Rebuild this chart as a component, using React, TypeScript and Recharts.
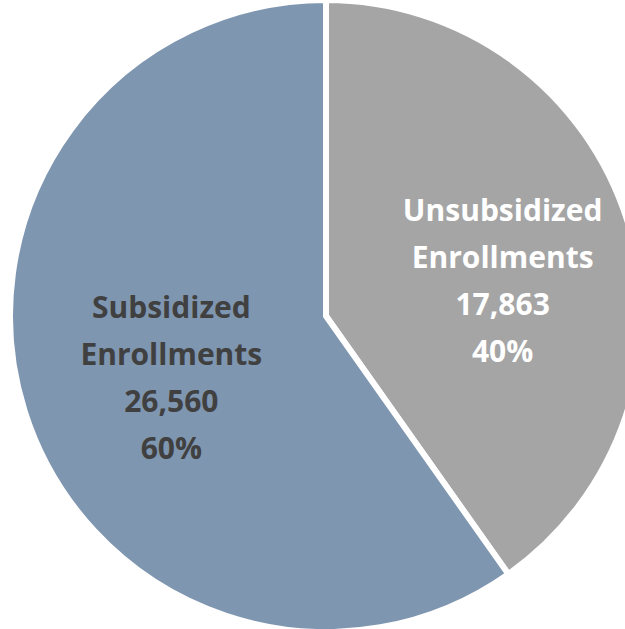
import { PieChart, Pie, Cell } from "recharts"

const categories = ["Unsubsidized Enrollments", "Subsidized Enrollments"]
const enrollments = [17863, 26560]
const sliceColors = ["#A5A5A5", "#7F96B1"]
const labelColors = ["#FFFFFF", "#404040"]

const data = categories.map((name, i) => ({ name, value: enrollments[i] }))

const RADIAN = Math.PI / 180

const renderLabel = (props: any) => {
  const { cx, cy, midAngle, outerRadius, percent, index, name, value } = props
  const r = outerRadius * 0.55
  const x = cx + r * Math.cos(-midAngle * RADIAN) + 11
  // labels sit a bit closer to the horizontal than the mid angle
  const y =
    cy +
    r * Math.sin(-midAngle * RADIAN) +
    14 +
    15 * Math.sin(midAngle * RADIAN)
  const lines = [
    ...String(name).split(" "),
    Number(value).toLocaleString("en-US"),
    Math.round(percent * 100) + "%",
  ]
  const lh = 47
  const top = y - ((lines.length - 1) * lh) / 2 + 10
  return (
    <text
      x={x}
      y={top}
      textAnchor='middle'
      fill={labelColors[index]}
      fontFamily='"Open Sans", sans-serif'
      fontWeight={700}
      fontSize={30}>
      {lines.map((l, i) => (
        <tspan key={i} x={x} y={top + i * lh}>
          {l}
        </tspan>
      ))}
    </text>
  )
}

export default function App() {
  return (
    <div
      style={{
        position: "absolute",
        top: 0,
        left: 0,
        width: 625,
        height: 629,
        background: "#fff",
      }}>
      <PieChart
        width={625}
        height={629}
        margin={{ top: 0, right: 0, bottom: 0, left: 0 }}>
        <Pie
          data={data}
          dataKey='value'
          nameKey='name'
          cx={326}
          cy={316}
          outerRadius={316}
          startAngle={90}
          endAngle={-270}
          stroke='#fff'
          strokeWidth={6}
          label={renderLabel}
          labelLine={false}
          isAnimationActive={false}>
          {data.map((d, i) => (
            <Cell key={d.name} fill={sliceColors[i]} />
          ))}
        </Pie>
      </PieChart>
    </div>
  )
}
